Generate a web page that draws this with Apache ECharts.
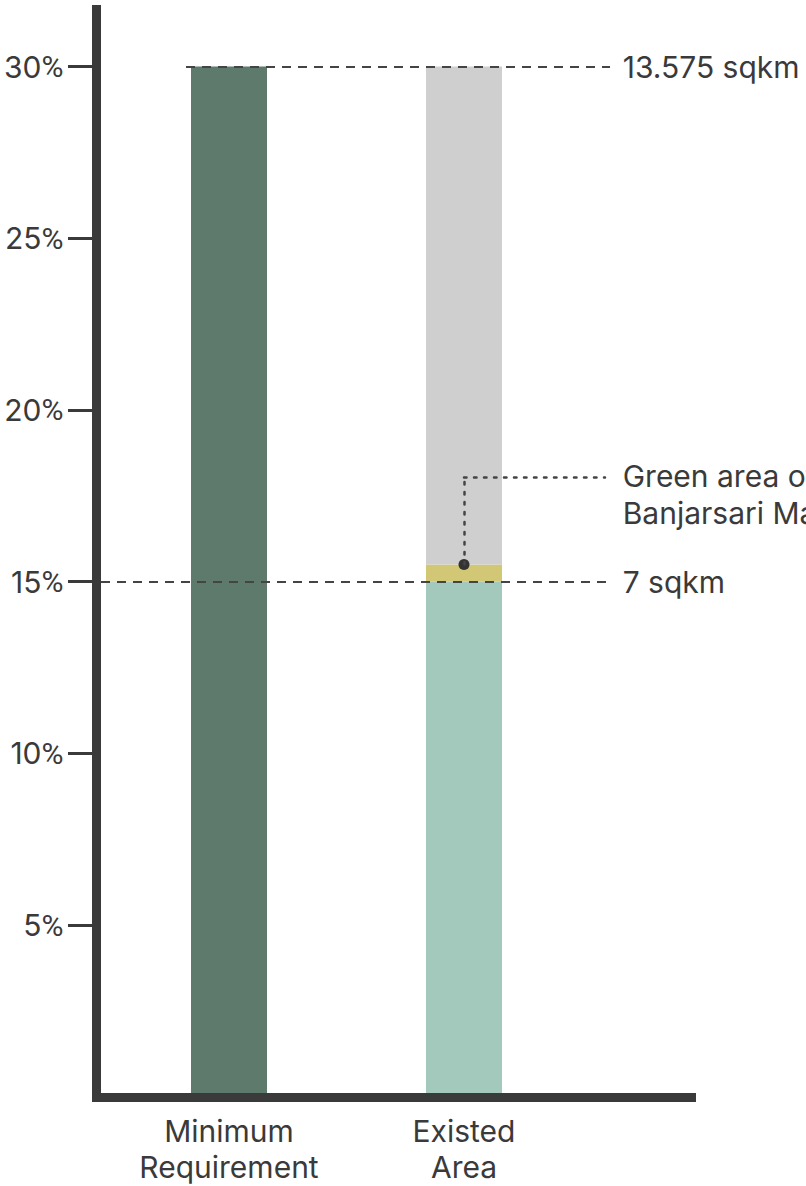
<!DOCTYPE html>
<html>
<head>
<meta charset="utf-8">
<script src="https://cdn.jsdelivr.net/npm/echarts@6/dist/echarts.min.js"></script>
<style>
html,body{margin:0;padding:0;background:#fff;}
#chart{width:806px;height:1186px;}
</style>
</head>
<body>
<div id="chart"></div>
<script>
// ---- data ----
const categories = ['Minimum\nRequirement', 'Existed\nArea'];
const requirement = [30, '-'];
const existingGreen = ['-', 15];
const banjarsariGreen = ['-', 0.5];
const remainingArea = ['-', 14.5];
const tickValues = [5, 10, 15, 20, 25, 30];
const refLevels = [30, 15];
const refLabels = ['13.575 sqkm', '7 sqkm'];
const annotationText = 'Green area of\nBanjarsari Mall';
const annotationLevel = 18.05;

// ---- styles ----
const FONT = 'Inter';
const TEXT = '#3a3a3a';
const AXIS = '#3a3a3a';
const Y_MAX = 31.66;
const GRID_TOP = 9.5, GRID_BOTTOM = 89.1;

const chart = echarts.init(document.getElementById('chart'), null, {renderer: 'svg'});

const dashStyle = {color: '#444', width: 2, type: [9, 7]};
const dotStyle = {color: '#444', width: 2.5, type: [2.5, 7.5], cap: 'round'};

const option = {
  animation: false,
  backgroundColor: '#fff',
  grid: [
    {left: 96.5, right: 114.5, top: GRID_TOP, bottom: GRID_BOTTOM, containLabel: false, outerBoundsMode: 'none'},
    {left: 111.5, width: 470, top: GRID_TOP, bottom: GRID_BOTTOM, containLabel: false, outerBoundsMode: 'none'}
  ],
  xAxis: [
    {
      gridIndex: 0, type: 'value', min: 0, max: 1, z: 10,
      axisLine: {show: true, lineStyle: {color: AXIS, width: 9, cap: 'square'}},
      axisTick: {show: false}, axisLabel: {show: false}, splitLine: {show: false}
    },
    {
      gridIndex: 1, type: 'category', data: categories,
      axisLine: {show: false}, axisTick: {show: false}, splitLine: {show: false},
      axisLabel: {color: TEXT, fontFamily: FONT, fontSize: 30, lineHeight: 36, margin: 16, interval: 0}
    }
  ],
  yAxis: [
    {
      gridIndex: 0, type: 'value', min: 0, max: Y_MAX, interval: 5, z: 10,
      axisLine: {show: true, lineStyle: {color: AXIS, width: 9, cap: 'square'}},
      axisTick: {show: true, customValues: tickValues, length: 28.5, lineStyle: {color: AXIS, width: 3}},
      axisLabel: {
        customValues: tickValues,
        formatter: v => v + '{p|%}',
        color: TEXT, fontFamily: FONT, fontSize: 30, margin: 33,
        rich: {p: {fontFamily: 'Roboto', fontSize: 30, color: TEXT}}
      },
      splitLine: {show: false}
    },
    {gridIndex: 1, type: 'value', min: 0, max: Y_MAX, show: false, splitLine: {show: false}}
  ],
  series: [
    {
      name: 'Minimum Requirement', type: 'bar', xAxisIndex: 1, yAxisIndex: 1, stack: 'total',
      barWidth: 76, data: requirement, itemStyle: {color: '#5e7a6d'}, silent: true
    },
    {
      name: 'Existing Green Area', type: 'bar', xAxisIndex: 1, yAxisIndex: 1, stack: 'total',
      barWidth: 76, data: existingGreen, itemStyle: {color: '#a3c9bd'}, silent: true
    },
    {
      name: 'Banjarsari Green Area', type: 'bar', xAxisIndex: 1, yAxisIndex: 1, stack: 'total',
      barWidth: 76, data: banjarsariGreen, itemStyle: {color: '#d1c774'}, silent: true,
      markPoint: {
        silent: true, symbol: 'circle', symbolSize: 11,
        itemStyle: {color: '#333'}, label: {show: false},
        data: [{coord: [categories[1], existingGreen[1] + banjarsariGreen[1]]}]
      },
      markLine: {
        silent: true, symbol: ['none', 'none'], label: {show: false}, lineStyle: dotStyle, z: 6,
        data: [
          [{coord: [categories[1], existingGreen[1] + banjarsariGreen[1]]}, {coord: [categories[1], annotationLevel]}],
          [{coord: [categories[1], annotationLevel]}, {x: 605, yAxis: annotationLevel}]
        ]
      }
    },
    {
      name: 'Remaining Area', type: 'bar', xAxisIndex: 1, yAxisIndex: 1, stack: 'total',
      barWidth: 76, data: remainingArea, itemStyle: {color: '#cfcfcf'}, silent: true,
      markLine: {
        silent: true, symbol: ['none', 'none'], lineStyle: dashStyle, z: 6,
        label: {show: true, position: 'end', distance: 12.7, color: TEXT, fontFamily: FONT, fontSize: 30,
                formatter: p => p.data.labelText},
        data: [
          [{x: 186, yAxis: refLevels[0], labelText: refLabels[0]}, {x: 610, yAxis: refLevels[0]}],
          [{x: 101, yAxis: refLevels[1], labelText: refLabels[1]}, {x: 610, yAxis: refLevels[1]}]
        ]
      }
    }
  ],
  graphic: [
    {
      type: 'text', left: 622.7, top: 457, silent: true,
      style: {text: annotationText, fill: TEXT, font: '30px Inter', lineHeight: 37}
    }
  ]
};
chart.setOption(option);
</script>
</body>
</html>
